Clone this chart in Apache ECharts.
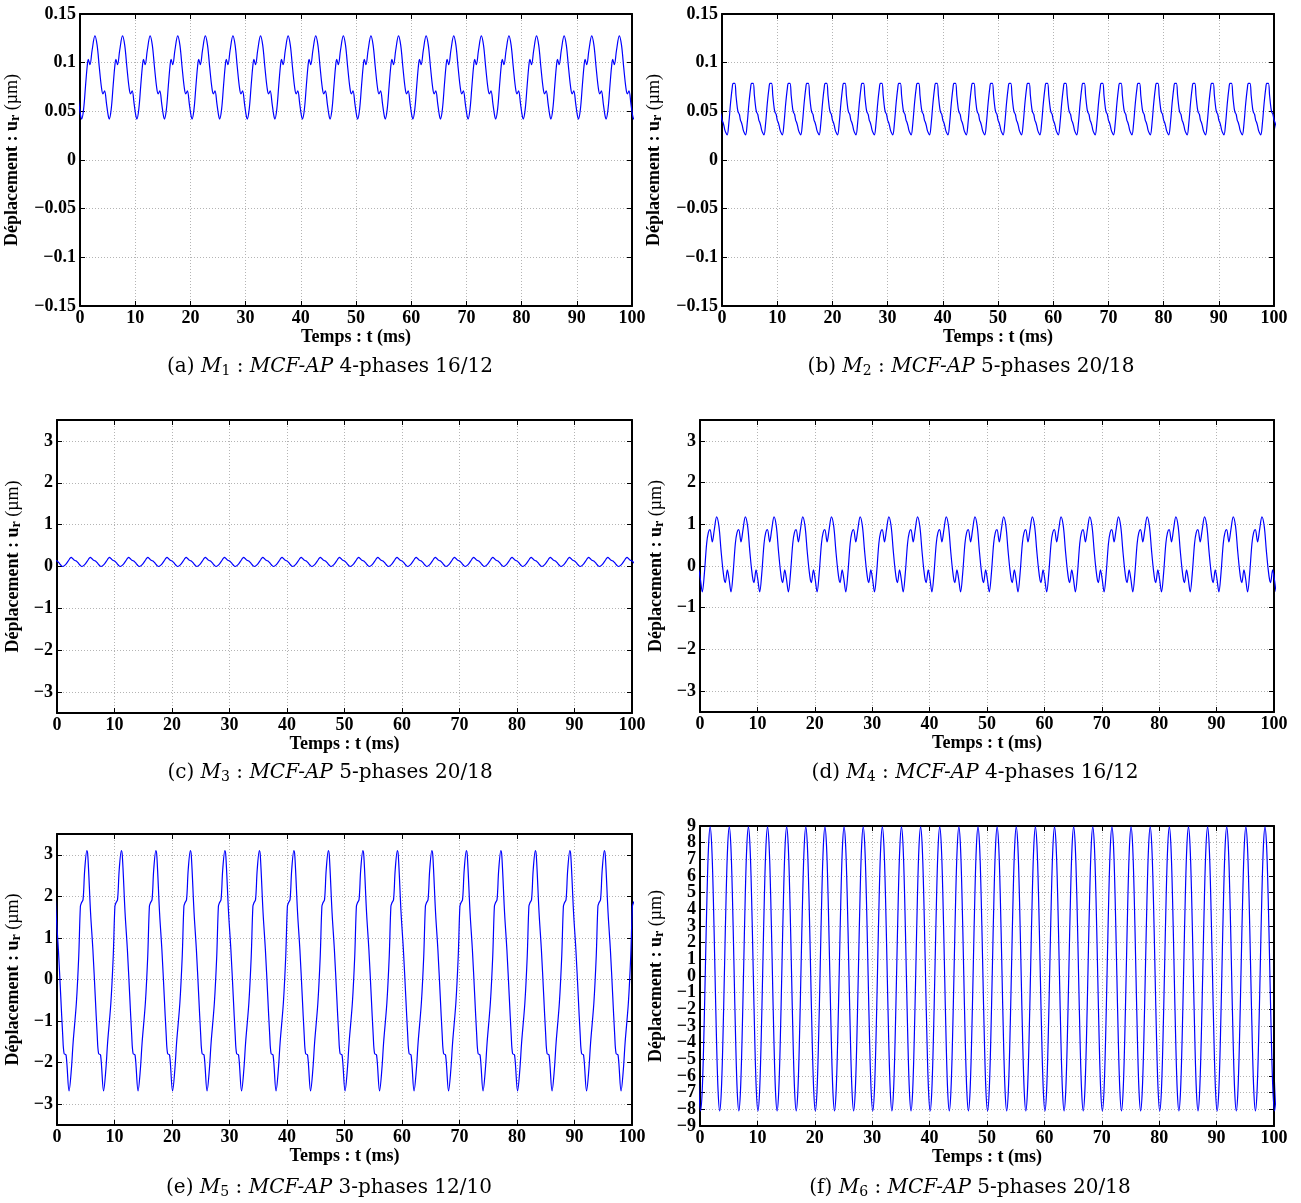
<!DOCTYPE html>
<html>
<head>
<meta charset="utf-8">
<script src="https://cdn.jsdelivr.net/npm/echarts@6/dist/echarts.min.js"></script>
<style>
  html, body { margin: 0; padding: 0; background: #fff; }
  #chart { width: 1301px; height: 1203px; }
</style>
</head>
<body>
<div id="chart"></div>
<script>
// time axis (ms)
const timeMin = 0
const timeMax = 100
const timeStep = 10

// y tick labels for each panel
const yTicksSmall = [-0.15, -0.1, -0.05, 0, 0.05, 0.1, 0.15]
const yTicksMid = [-3, -2, -1, 0, 1, 2, 3]
const yTicksLarge = [-9, -8, -7, -6, -5, -4, -3, -2, -1, 0, 1, 2, 3, 4, 5, 6, 7, 8, 9]

// each signal is periodic: one period (phase in ms, u_r in µm),
// plus the period and the time of the first phase point
const m1Period = 5, m1Start = 0.3
const m1Phase = [0, 0.35, 0.7, 1.0, 1.2, 1.5, 1.9, 2.4, 2.8, 3.2, 3.6, 3.85, 4.15, 4.5, 4.8]
const m1Value = [0.042, 0.052, 0.076, 0.096, 0.1035, 0.098, 0.113, 0.1276, 0.118, 0.095, 0.074, 0.068, 0.071, 0.058, 0.046]

const m2Period = 3.3333, m2Start = 0.94
const m2Phase = [0, 0.3, 0.6, 0.9, 1.08, 1.38, 1.6, 1.85, 2.0, 2.2, 2.4, 2.55, 2.75, 2.9, 3.1]
const m2Value = [0.0257, 0.038, 0.058, 0.0736, 0.0787, 0.0787, 0.066, 0.053, 0.049, 0.047, 0.041, 0.039, 0.035, 0.031, 0.028]

const m3Period = 3.3333, m3Start = 2.47
const m3Phase = [0, 0.25, 0.5, 0.8, 1.05, 1.3, 1.55, 1.86, 2.1, 2.5, 2.9, 3.15]
const m3Value = [0.22, 0.19, 0.155, 0.135, 0.11, 0.07, 0.03, 0.0, 0.015, 0.07, 0.15, 0.2]

const m4Period = 5, m4Start = 0.4
const m4Phase = [0, 0.35, 0.76, 1.05, 1.34, 1.74, 2.1, 2.5, 2.9, 3.26, 3.6, 3.84, 4.0, 4.36, 4.65]
const m4Value = [-0.62, -0.2, 0.54, 0.8, 0.87, 0.58, 0.88, 1.18, 0.95, 0.38, -0.1, -0.34, -0.4, -0.09, -0.3]

const m5Period = 6, m5Start = 5.2
const m5Phase = [0, 0.17, 0.64, 1.04, 1.45, 1.8, 2.03, 2.38, 2.9, 3.3, 3.6, 4.17, 4.58, 4.87, 5.04, 5.33, 5.62]
const m5Value = [3.1, 2.96, 1.6, 0.72, -0.4, -1.36, -1.78, -1.82, -2.68, -2.16, -1.52, -0.56, 0.56, 1.76, 1.84, 1.92, 2.64]

const m6Period = 3.3333, m6Start = 0.1
const m6Phase = [0, 0.278, 0.556, 0.833, 1.111, 1.389, 1.667, 1.944, 2.222, 2.5, 2.778, 3.056]
const m6Value = [-8.1, -6.95, -3.85, 0.4, 4.7, 7.8, 8.95, 7.8, 4.7, 0.4, -3.85, -6.95]

// repeat one period over the whole time window
function tile(phase, value, period, start) {
  const pts = []
  for (let k = -1; start + k * period <= timeMax + 1; k++) {
    phase.forEach((p, i) => {
      const t = start + k * period + p
      if (t >= timeMin - period && t <= timeMax + period) pts.push([t, value[i]])
    })
  }
  return pts
}

const SERIF = 'Liberation Serif'
const CAPFONT = 'DejaVu Serif'
const fmt = v => String(Math.round(v * 100) / 100).replace('-', '\u2212')

const panels = [
  { grid: { left: 80, top: 14, width: 552, height: 292 }, min: -0.15, max: 0.15, ticks: yTicksSmall, gap: 58,
    data: tile(m1Phase, m1Value, m1Period, m1Start),
    cap: ['(a)', 'M', '1', 'MCF-AP', '4-phases 16/12'], capX: 330, capY: 367 },
  { grid: { left: 722, top: 14, width: 552, height: 292 }, min: -0.15, max: 0.15, ticks: yTicksSmall, gap: 58,
    data: tile(m2Phase, m2Value, m2Period, m2Start),
    cap: ['(b)', 'M', '2', 'MCF-AP', '5-phases 20/18'], capX: 971, capY: 367 },
  { grid: { left: 57, top: 420, width: 575, height: 293 }, min: -3.5, max: 3.5, ticks: yTicksMid, gap: 34,
    data: tile(m3Phase, m3Value, m3Period, m3Start),
    cap: ['(c)', 'M', '3', 'MCF-AP', '5-phases 20/18'], capX: 330, capY: 773 },
  { grid: { left: 700, top: 420, width: 574, height: 292 }, min: -3.5, max: 3.5, ticks: yTicksMid, gap: 34,
    data: tile(m4Phase, m4Value, m4Period, m4Start),
    cap: ['(d)', 'M', '4', 'MCF-AP', '4-phases 16/12'], capX: 975, capY: 773 },
  { grid: { left: 57, top: 834, width: 575, height: 291 }, min: -3.5, max: 3.5, ticks: yTicksMid, gap: 34,
    data: tile(m5Phase, m5Value, m5Period, m5Start),
    cap: ['(e)', 'M', '5', 'MCF-AP', '3-phases 12/10'], capX: 329, capY: 1188 },
  { grid: { left: 700, top: 826, width: 574, height: 300 }, min: -9, max: 9, ticks: yTicksLarge, gap: 34,
    data: tile(m6Phase, m6Value, m6Period, m6Start),
    cap: ['(f)', 'M', '6', 'MCF-AP', '5-phases 20/18'], capX: 970, capY: 1188 },
]

const labelStyle = { fontFamily: SERIF, fontWeight: 'bold', fontSize: 18, color: '#000' }
const frameLine = { show: true, onZero: false, lineStyle: { color: '#000', width: 2 } }
const tickIn = { show: true, inside: true, length: 5, lineStyle: { color: '#000', width: 1 } }
const gridLine = { show: true, lineStyle: { color: '#b4b4b4', width: 1, type: [1, 2] } }

const grids = [], xAxes = [], yAxes = [], series = [], graphics = []

panels.forEach((p, i) => {
  grids.push(Object.assign({ outerBoundsMode: 'none', containLabel: false }, p.grid))

  // bottom / top time axes
  const xIndex = xAxes.length
  xAxes.push({
    type: 'value', gridIndex: i, min: timeMin, max: timeMax, interval: timeStep, position: 'bottom',
    axisLine: frameLine, axisTick: tickIn, splitLine: gridLine,
    axisLabel: Object.assign({ margin: 3, formatter: v => String(v) }, labelStyle),
    name: 'Temps : t (ms)', nameLocation: 'middle', nameGap: 15,
    nameTextStyle: { fontFamily: SERIF, fontWeight: 'bold', fontSize: 18, color: '#000' },
  })
  xAxes.push({
    type: 'value', gridIndex: i, min: timeMin, max: timeMax, interval: timeStep, position: 'top',
    axisLine: frameLine, axisTick: tickIn, splitLine: { show: false }, axisLabel: { show: false },
  })

  // left axis labels are split on two axes so that dense labels are never dropped
  const evenLabels = p.ticks.filter((v, k) => k % 2 === 0)
  const oddLabels = p.ticks.filter((v, k) => k % 2 === 1)

  const yIndex = yAxes.length
  yAxes.push({
    type: 'value', gridIndex: i, min: p.min, max: p.max, position: 'left',
    axisLine: frameLine,
    axisTick: Object.assign({ customValues: p.ticks }, tickIn),
    splitLine: gridLine,
    axisLabel: Object.assign({ margin: 4, customValues: evenLabels, formatter: fmt,
      showMinLabel: true, showMaxLabel: true }, labelStyle),
    name: '{b|Déplacement : u}{s|r}{n| (µm)}', nameLocation: 'middle', nameGap: p.gap,
    nameTextStyle: {
      color: '#000',
      rich: {
        b: { fontFamily: SERIF, fontWeight: 'bold', fontSize: 18, color: '#000', lineHeight: 20 },
        s: { fontFamily: SERIF, fontWeight: 'bold', fontSize: 14, color: '#000', verticalAlign: 'bottom', lineHeight: 4 },
        n: { fontFamily: SERIF, fontWeight: 'normal', fontSize: 18, color: '#000', lineHeight: 20 },
      },
    },
  })
  yAxes.push({
    type: 'value', gridIndex: i, min: p.min, max: p.max, position: 'left',
    axisLine: { show: false }, axisTick: { show: false }, splitLine: { show: false },
    axisLabel: Object.assign({ margin: 4, customValues: oddLabels, formatter: fmt,
      showMinLabel: true, showMaxLabel: true }, labelStyle),
  })
  yAxes.push({
    type: 'value', gridIndex: i, min: p.min, max: p.max, position: 'right',
    axisLine: frameLine,
    axisTick: Object.assign({ customValues: p.ticks }, tickIn),
    splitLine: { show: false }, axisLabel: { show: false },
  })

  series.push({
    type: 'line', xAxisIndex: xIndex, yAxisIndex: yIndex, data: p.data,
    showSymbol: false, smooth: 0.35, clip: true, animation: false,
    lineStyle: { color: '#0000ff', width: 1.2 },
  })

  // sub-figure caption
  const c = p.cap
  graphics.push({
    type: 'text', x: p.capX, y: p.capY,
    style: {
      text: c[0] + ' {i|' + c[1] + '}{s|' + c[2] + '} : {i|' + c[3] + '} ' + c[4],
      fontFamily: CAPFONT, fontSize: 20, fill: '#000', align: 'center', verticalAlign: 'middle',
      rich: {
        i: { fontFamily: CAPFONT, fontStyle: 'italic', fontSize: 20, fill: '#000', lineHeight: 22 },
        s: { fontFamily: CAPFONT, fontSize: 14, fill: '#000', verticalAlign: 'bottom', lineHeight: 6 },
      },
    },
  })
})

const chart = echarts.init(document.getElementById('chart'), null, { renderer: 'canvas' })
chart.setOption({
  animation: false,
  backgroundColor: '#fff',
  grid: grids,
  xAxis: xAxes,
  yAxis: yAxes,
  series: series,
  graphic: graphics,
})
</script>
</body>
</html>
